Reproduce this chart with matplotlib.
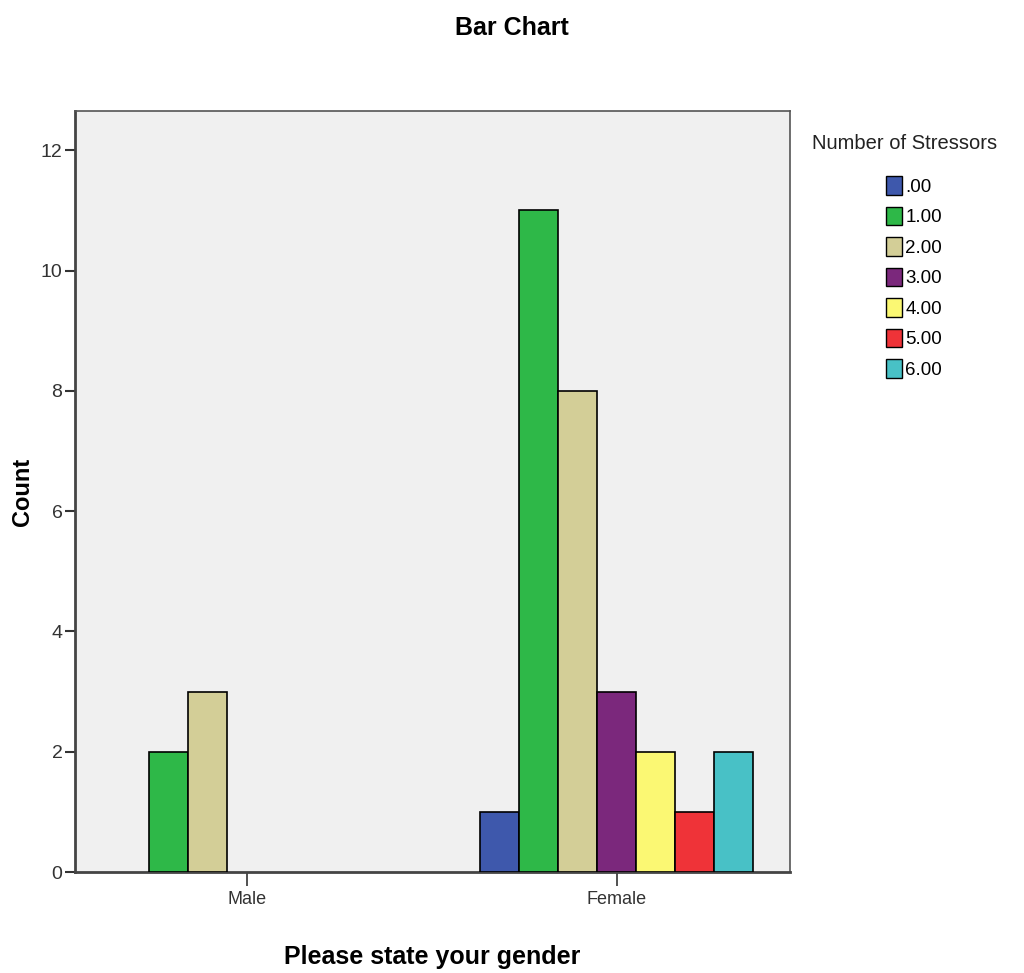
import matplotlib
matplotlib.use("Agg")
import matplotlib.pyplot as plt
import numpy as np
from matplotlib.patches import Patch

genders = ["Male", "Female"]
stressors = [".00", "1.00", "2.00", "3.00", "4.00", "5.00", "6.00"]
counts = {
    ".00": [0, 1],
    "1.00": [2, 11],
    "2.00": [3, 8],
    "3.00": [0, 3],
    "4.00": [0, 2],
    "5.00": [0, 1],
    "6.00": [0, 2],
}
colors = ["#3E58AC", "#2EB848", "#D3CE97", "#7B287C", "#FBF873", "#EF3338", "#48C1C6"]

plt.rcParams["font.family"] = ["Liberation Sans", "DejaVu Sans"]

fig = plt.figure(figsize=(10.24, 9.73), dpi=100)
ax = fig.add_axes([0.0732, 0.1038, 0.698, 0.782])
ax.set_facecolor("#F0F0F0")

x = np.arange(len(genders))
width = 0.1054
for i, (name, col) in enumerate(zip(stressors, colors)):
    offset = (i - (len(stressors) - 1) / 2) * width
    vals = np.array(counts[name])
    keep = vals > 0
    ax.bar(x[keep] + offset, vals[keep], width, color=col, edgecolor="black",
           linewidth=1.2, zorder=3)

ax.set_xlim(-0.465, 1.468)
ax.set_ylim(0, 12.65)
ax.set_yticks(range(0, 13, 2))
ax.set_xticks(x)
ax.set_xticklabels(genders)
ax.tick_params(axis="y", direction="out", length=7, width=1.5, labelsize=14,
               colors="#333333", pad=2)
ax.tick_params(axis="x", direction="out", length=10, width=1.2, labelsize=13,
               colors="#333333")
for side in ["left", "bottom"]:
    ax.spines[side].set_linewidth(2)
    ax.spines[side].set_color("#444444")
for side in ["top", "right"]:
    ax.spines[side].set_linewidth(1.2)
    ax.spines[side].set_color("#555555")

ax.set_ylabel("Count", fontsize=17, fontweight="bold", labelpad=5)
ax.set_xlabel("Please state your gender", fontsize=18, fontweight="bold", labelpad=27)
fig.text(0.5, 0.984, "Bar Chart", ha="center", va="top", fontsize=18, fontweight="bold")

fig.text(0.793, 0.853, "Number of Stressors", ha="left", va="center", fontsize=14.5,
         color="#222222")
handles = [Patch(facecolor=c, edgecolor="black", label=s) for s, c in zip(stressors, colors)]
fig.legend(handles=handles, loc="upper left", bbox_to_anchor=(0.865, 0.819),
           frameon=False, fontsize=13.5, handlelength=0.85, handleheight=1.15,
           handletextpad=0.2, labelspacing=0.58, borderpad=0, borderaxespad=0)

fig.savefig("out.png", dpi=100)
